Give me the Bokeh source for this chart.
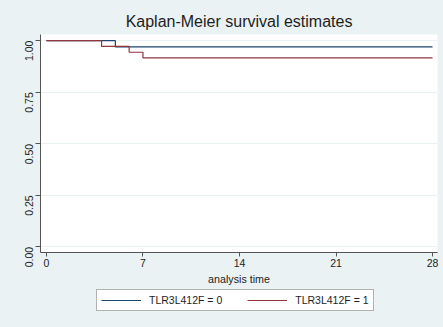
import math
from bokeh.plotting import figure
from bokeh.layouts import column
from bokeh.models import FixedTicker, Legend, LegendItem, Range1d
from bokeh.embed import file_html
from bokeh.resources import INLINE

# Data
times_0 = [0, 5, 28]
surv_0 = [1.0, 0.970, 0.970]
times_1 = [0, 4, 6, 7, 28]
surv_1 = [1.0, 0.972, 0.944, 0.917, 0.917]
x_ticks = [0, 7, 14, 21, 28]
y_ticks = [0.0, 0.25, 0.5, 0.75, 1.0]
y_tick_labels = {0.0: "0.00", 0.25: "0.25", 0.5: "0.50", 0.75: "0.75", 1.0: "1.00"}
labels = ["TLR3L412F = 0", "TLR3L412F = 1"]
colors = ["#1a476f", "#90353b"]

BG = "#eaf2f3"
FONT = "Liberation Sans"
TXT = "#1e1e1e"

p = figure(width=443, height=289, output_backend="svg", toolbar_location=None,
           x_range=Range1d(-0.43, 28.36), y_range=Range1d(-0.027, 1.03),
           min_border_left=40, min_border_right=6, min_border_top=34, min_border_bottom=37)
p.background_fill_color = "white"
p.border_fill_color = BG
p.outline_line_color = None

p.title.text = "Kaplan-Meier survival estimates"
p.title.align = "center"
p.title.text_font = FONT
p.title.text_font_size = "16px"
p.title.text_font_style = "normal"
p.title.text_color = TXT

p.xgrid.visible = False
p.ygrid.ticker = FixedTicker(ticks=y_ticks)
p.ygrid.grid_line_color = BG
p.ygrid.grid_line_width = 1

p.xaxis.ticker = FixedTicker(ticks=x_ticks)
p.yaxis.ticker = FixedTicker(ticks=y_ticks)
p.yaxis.major_label_overrides = y_tick_labels
p.yaxis.major_label_orientation = math.pi / 2
p.xaxis.axis_label = "analysis time"
for ax in (p.xaxis, p.yaxis):
    ax.axis_line_color = "#555555"
    ax.major_tick_line_color = "#555555"
    ax.major_tick_out = 5
    ax.major_tick_in = 0
    ax.minor_tick_out = 0
    ax.minor_tick_in = 0
    ax.major_label_text_font = FONT
    ax.major_label_text_font_size = "10.5px"
    ax.major_label_text_color = TXT
    ax.axis_label_text_font = FONT
    ax.axis_label_text_font_size = "10.7px"
    ax.axis_label_text_font_style = "normal"
    ax.axis_label_text_color = TXT
p.xaxis.major_tick_out = 4
p.xaxis.axis_label_standoff = 3
p.xaxis.major_label_standoff = 2
p.yaxis.major_label_standoff = 6

for t, s, c in ((times_0, surv_0, colors[0]), (times_1, surv_1, colors[1])):
    p.step(t, s, mode="after", line_color=c, line_width=1.2)

# Legend strip below the plot (its frame is aligned with the plot frame, x from 40)
lf = figure(width=443, height=38, output_backend="svg", toolbar_location=None,
            x_range=Range1d(0, 1), y_range=Range1d(0, 1),
            x_axis_type=None, y_axis_type=None,
            min_border_left=0, min_border_right=0, min_border_top=0, min_border_bottom=0)
lf.background_fill_color = BG
lf.border_fill_color = BG
lf.outline_line_color = None
items = []
for lab, c in zip(labels, colors):
    r = lf.line([-10, -9], [-10, -10], line_color=c, line_width=1.2)
    items.append(LegendItem(label=lab, renderers=[r]))

legend = Legend(items=items, orientation="horizontal", location=(56, 16))
legend.label_text_font = FONT
legend.label_text_font_size = "10.5px"
legend.label_text_color = TXT
legend.glyph_width = 40
legend.glyph_height = 12
legend.label_standoff = 8
legend.label_height = 12
legend.spacing = 25
legend.padding = 4
legend.margin = 0
legend.border_line_color = "#666666"
legend.background_fill_color = "white"
legend.background_fill_alpha = 1.0
lf.add_layout(legend, "center")

layout = column(p, lf, spacing=0, styles={"background-color": BG})
open("out.html", "w").write(file_html(layout, INLINE))
